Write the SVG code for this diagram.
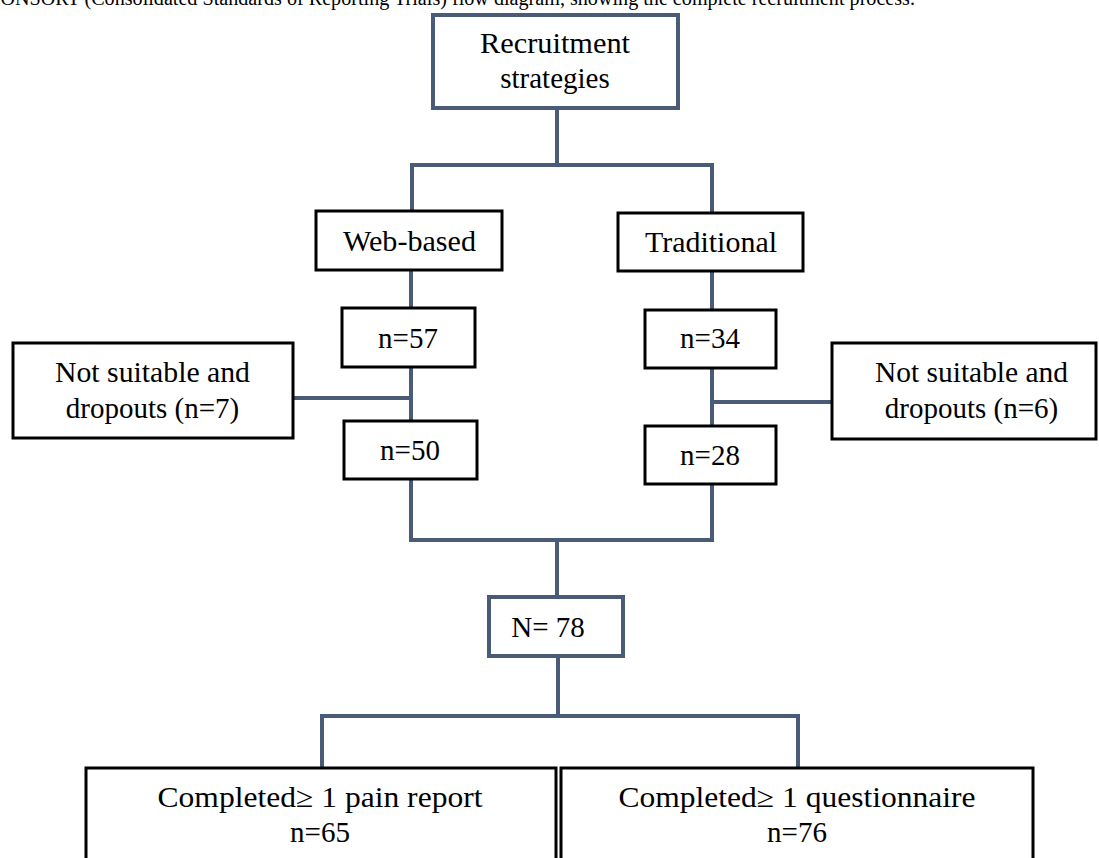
<svg xmlns="http://www.w3.org/2000/svg" width="1099" height="858" viewBox="0 0 1099 858">
<style>
.t{font-size:29px;fill:#000;text-anchor:middle}
.bk{fill:#fff;stroke:#000;stroke-width:3}
.sl{fill:#fff;stroke:#4a5b77;stroke-width:4}
.c{stroke:#4a5b77;stroke-width:4;fill:none;stroke-linecap:square}
</style>
<rect width="1099" height="858" fill="#fff"/>
<g font-family="Liberation Serif, serif">
<text x="-13" y="5" font-size="20" textLength="928" lengthAdjust="spacingAndGlyphs">CONSORT (Consolidated Standards of Reporting Trials) flow diagram, showing the complete recruitment process.</text>
<g id="connectors">
<path class="c" d="M557 108V165M412 165H712M412 165V211M712 165V213"/>
<path class="c" d="M411 270V308M411 367V421M293 398H411"/>
<path class="c" d="M712 271V310M712 368V426M712 402H832"/>
<path class="c" d="M411 479V540M712 484V540M411 540H712M557 540V597"/>
<path class="c" d="M558 656V716M322 716H798M322 716V768M798 716V768"/>
</g>
<g id="recruitment">
<rect class="sl" x="433" y="15" width="245" height="93"/>
<text class="t" x="555" y="53" textLength="150" lengthAdjust="spacingAndGlyphs">Recruitment</text>
<text class="t" x="555" y="88">strategies</text>
</g>
<g id="web">
<rect class="bk" x="316" y="211" width="186" height="59"/>
<text class="t" x="409.5" y="251" textLength="133" lengthAdjust="spacingAndGlyphs">Web-based</text>
</g>
<g id="traditional">
<rect class="bk" x="618" y="213" width="185" height="58"/>
<text class="t" x="711" y="252" textLength="132" lengthAdjust="spacingAndGlyphs">Traditional</text>
</g>
<g id="n57">
<rect class="bk" x="342" y="308" width="133" height="59"/>
<text class="t" x="408" y="348">n=57</text>
</g>
<g id="n50">
<rect class="bk" x="344" y="421" width="133" height="58"/>
<text class="t" x="410" y="460">n=50</text>
</g>
<g id="n34">
<rect class="bk" x="645" y="310" width="131" height="58"/>
<text class="t" x="710" y="348">n=34</text>
</g>
<g id="n28">
<rect class="bk" x="645" y="426" width="131" height="58"/>
<text class="t" x="710" y="465">n=28</text>
</g>
<g id="excl-left">
<rect class="bk" x="13" y="343" width="280" height="95"/>
<text class="t" x="152.5" y="382" textLength="195" lengthAdjust="spacingAndGlyphs">Not suitable and</text>
<text class="t" x="152.5" y="418">dropouts (n=7)</text>
</g>
<g id="excl-right">
<rect class="bk" x="832" y="343" width="264" height="96"/>
<text class="t" x="971.5" y="382" textLength="193" lengthAdjust="spacingAndGlyphs">Not suitable and</text>
<text class="t" x="971.5" y="418">dropouts (n=6)</text>
</g>
<g id="total">
<rect class="sl" x="489" y="597" width="134" height="59"/>
<text class="t" x="548" y="637">N= 78</text>
</g>
<g id="pain">
<rect class="bk" x="86" y="768" width="470" height="100"/>
<text class="t" x="320" y="807" textLength="325" lengthAdjust="spacingAndGlyphs">Completed≥ 1 pain report</text>
<text class="t" x="320" y="842">n=65</text>
</g>
<g id="quest">
<rect class="bk" x="561" y="768" width="472" height="100"/>
<text class="t" x="797" y="807" textLength="357" lengthAdjust="spacingAndGlyphs">Completed≥ 1 questionnaire</text>
<text class="t" x="797" y="842">n=76</text>
</g>
</g>
</svg>
